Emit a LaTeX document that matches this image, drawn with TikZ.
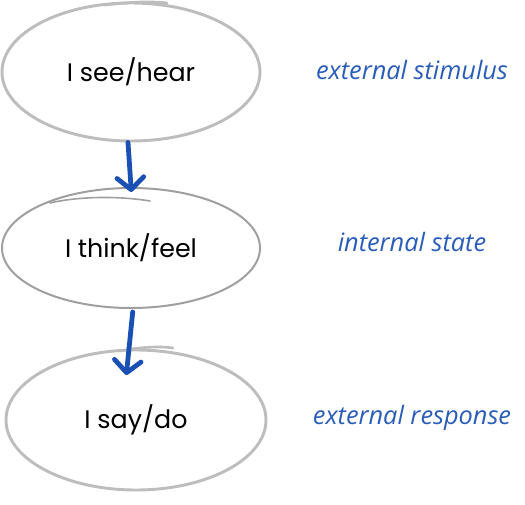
\documentclass[tikz,border=0pt]{standalone}
\usepackage{fontspec}
\setmainfont{Poppins}
\newfontfamily\notefont{Open Sans}
\usepackage{xcolor}
\usepackage{tikz}
\usetikzlibrary{shapes.geometric,arrows.meta}
\definecolor{sketchgray}{HTML}{BDBDBD}
\definecolor{arrowblue}{HTML}{1A4FB4}
\definecolor{noteblue}{HTML}{2A5DB8}

\begin{document}
\begin{tikzpicture}[x=0.75pt,y=0.75pt,yscale=-1,xscale=1,
  bubble/.style={ellipse,draw=sketchgray,line width=2.2pt,inner sep=0pt,font=\fontsize{19}{22}\selectfont},
  sketch/.style={draw=sketchgray,line width=2pt,line cap=round},
  flow/.style={draw=arrowblue,line width=3.6pt,line cap=round,-{Straight Barb[length=9pt,width=20pt,line cap=round,line join=round]}},
  note/.style={text=noteblue,font=\notefont\itshape\fontsize{19}{22}\selectfont}]
\useasboundingbox (0,0) rectangle (525,504);

% Ellipse Nodes
\node[bubble,minimum width=193.5pt,minimum height=103.5pt] (see) at (131,72) {I see/hear};
\node[bubble,draw=gray!75,line width=1.5pt,minimum width=193.5pt,minimum height=90pt] (think) at (131,248) {I think/feel};
\node[bubble,minimum width=195pt,minimum height=105pt] (say) at (136,420) {I say/do};

%Curve Lines (sketchy overshoots)
\draw[sketch] (105,5) .. controls (130,2) and (150,1) .. (167,3) ;
\draw[sketch,draw=gray!75,line width=1.2pt] (50,203) .. controls (80,196) and (120,196) .. (150,201) ;
\draw[sketch] (120,351) .. controls (140,347) and (160,346) .. (173,348) ;

% Arrows
\draw[flow,shorten >=-3.75pt] ([xshift=-2.25pt]see.south) -- (think.north);
\draw[flow,shorten <=2.25pt,shorten >=-20pt] ([xshift=1.5pt]think.south) -- ([xshift=-5.25pt]say.north);

% Text Node
\node[note] (stimulus) at (412,70) {external stimulus};
\node[note] (state) at (412,242) {internal state};
\node[note] (response) at (412,418) {external response};

\end{tikzpicture}
\end{document}
